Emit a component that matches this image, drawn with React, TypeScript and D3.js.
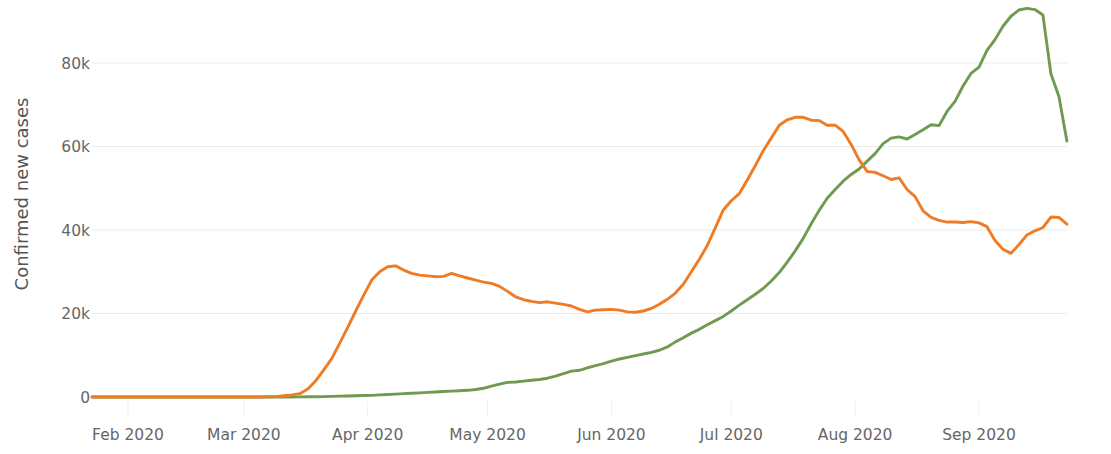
import React from "react";
import * as d3 from "d3";

// Dates: every 2 days from 23 Jan 2020 to 23 Sep 2020 (UTC)
const START = new Date(Date.UTC(2020, 0, 23));
const END = new Date(Date.UTC(2020, 8, 24));
const dates: Date[] = d3.utcDays(START, END, 2);

// Confirmed new cases (thousands), 7-day average
const seriesOrange: number[] = [
  0, 0, 0, 0, 0, 0, 0, 0, 0, 0,
  0, 0, 0, 0, 0, 0, 0, 0, 0, 0,
  0, 0, 0.05, 0.1, 0.3, 0.5, 0.8, 1.9, 3.9, 6.5,
  9.2, 12.9, 16.7, 20.6, 24.4, 28.0, 30.0, 31.2, 31.4, 30.4,
  29.6, 29.2, 29.0, 28.8, 28.9, 29.6, 29.0, 28.5, 28.0, 27.5,
  27.2, 26.5, 25.3, 24.0, 23.3, 22.9, 22.6, 22.8, 22.5, 22.2,
  21.8, 21.0, 20.4, 20.8, 20.9, 21.0, 20.8, 20.4, 20.3, 20.6,
  21.2, 22.2, 23.4, 24.9, 27.0, 30.0, 33.0, 36.3, 40.5, 44.8,
  47.0, 48.7, 52.0, 55.4, 59.0, 62.0, 65.1, 66.4, 67.0, 67.0,
  66.3, 66.2, 65.1, 65.1, 63.6, 60.5, 56.8, 54.0, 53.8, 53.0,
  52.1, 52.5, 49.7, 48.0, 44.6, 43.0, 42.3, 41.9, 41.9, 41.8,
  42.0, 41.7, 40.8, 37.5, 35.4, 34.4, 36.5, 38.8, 39.8, 40.6,
  43.1, 43.0, 41.4,
];

const seriesGreen: number[] = [
  0, 0, 0, 0, 0, 0, 0, 0, 0, 0,
  0, 0, 0, 0, 0, 0, 0, 0, 0, 0,
  0, 0, 0, 0, 0, 0.01, 0.02, 0.05, 0.07, 0.1,
  0.15, 0.2, 0.25, 0.3, 0.35, 0.4, 0.5, 0.6, 0.7, 0.8,
  0.9, 1.0, 1.1, 1.2, 1.3, 1.4, 1.5, 1.6, 1.8, 2.1,
  2.6, 3.1, 3.5, 3.6, 3.8, 4.0, 4.2, 4.5, 5.0, 5.6,
  6.2, 6.4, 7.0, 7.5, 8.0, 8.6, 9.1, 9.5, 9.9, 10.3,
  10.7, 11.2, 12.0, 13.2, 14.2, 15.3, 16.2, 17.3, 18.3, 19.3,
  20.6, 22.0, 23.3, 24.6, 26.0, 27.8, 29.8, 32.3, 35.0, 38.0,
  41.5, 44.7, 47.6, 49.7, 51.7, 53.3, 54.6, 56.5, 58.3, 60.7,
  62.0, 62.3, 61.8, 62.9, 64.0, 65.2, 65.0, 68.4, 70.8, 74.5,
  77.5, 79.0, 83.0, 85.6, 88.8, 91.2, 92.7, 93.1, 92.8, 91.5,
  77.4, 72.0, 61.3,
];

const yTicks: number[] = [0, 20, 40, 60, 80];
const xTickDates: Date[] = d3.utcMonths(
  new Date(Date.UTC(2020, 1, 1)),
  new Date(Date.UTC(2020, 8, 2))
);

const ORANGE = "#ef7b25";
const GREEN = "#6f9a4f";
const FONT = "'DejaVu Sans', Verdana, sans-serif";

export default function App() {
  const W = 1111;
  const H = 454;
  const x = d3
    .scaleUtc()
    .domain([new Date(Date.UTC(2020, 1, 1)), new Date(Date.UTC(2020, 8, 1))])
    .range([128, 979]);
  const y = d3.scaleLinear().domain([0, 80]).range([397, 63]);
  const plotLeft = x(START);
  const plotRight = x(dates[dates.length - 1]);

  const line = d3
    .line<number>()
    .x((_, i) => x(dates[i]))
    .y((v) => y(v));

  const fmtY = (v: number) => (v === 0 ? "0" : `${v}k`);
  const fmtX = d3.utcFormat("%b %Y");

  return (
    <div style={{ position: "fixed", left: 0, top: 0 }}>
      <svg width={W} height={H} style={{ display: "block", background: "#fff" }}>
        {yTicks
          .filter((t) => t > 0)
          .map((t) => (
            <line
              key={"g" + t}
              x1={plotLeft}
              x2={plotRight}
              y1={y(t)}
              y2={y(t)}
              stroke="#ebebeb"
              strokeWidth={1}
            />
          ))}
        {xTickDates.map((d) => (
          <line
            key={"t" + d.getTime()}
            x1={x(d)}
            x2={x(d)}
            y1={401}
            y2={416}
            stroke="#efefef"
            strokeWidth={1}
          />
        ))}
        {yTicks.map((t) => (
          <text
            key={"yl" + t}
            x={90}
            y={y(t)}
            dy="0.36em"
            textAnchor="end"
            fontFamily={FONT}
            fontSize={15.5}
            fill="#666"
          >
            {fmtY(t)}
          </text>
        ))}
        {xTickDates.map((d) => (
          <text
            key={"xl" + d.getTime()}
            x={x(d)}
            y={440}
            textAnchor="middle"
            fontFamily={FONT}
            fontSize={15.5}
            fill="#666"
          >
            {fmtX(d)}
          </text>
        ))}
        <text
          transform="translate(28,194) rotate(-90)"
          textAnchor="middle"
          fontFamily={FONT}
          fontSize={18}
          fill="#555"
        >
          Confirmed new cases
        </text>
        <path
          d={line(seriesGreen) || ""}
          fill="none"
          stroke={GREEN}
          strokeWidth={2.9}
          strokeLinejoin="round"
          strokeLinecap="round"
        />
        <path
          d={line(seriesOrange) || ""}
          fill="none"
          stroke={ORANGE}
          strokeWidth={2.9}
          strokeLinejoin="round"
          strokeLinecap="round"
        />
      </svg>
    </div>
  );
}
